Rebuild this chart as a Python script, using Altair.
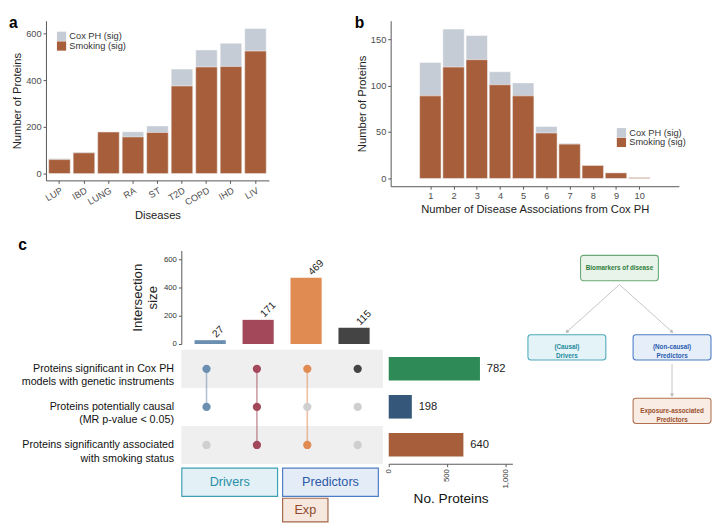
import math
import altair as alt
import pandas as pd

FONT = "Liberation Sans"

# ---------------- data ----------------
# panel a
diseases = ["LUP", "IBD", "LUNG", "RA", "ST", "T2D", "COPD", "IHD", "LIV"]
a_cox = [65, 92, 179, 179, 204, 447, 529, 558, 621]
a_smoking = [60, 89, 178, 157, 176, 375, 456, 458, 524]

# panel b
n_assoc = [1, 2, 3, 4, 5, 6, 7, 8, 9, 10]
b_cox = [125, 161, 154, 115, 103, 56, 38, 14, 6, 1]
b_smoking = [89, 120, 128, 101, 89, 49, 37, 14, 6, 1]

series_names = ["Cox PH (sig)", "Smoking (sig)"]

# panel c (upset)
set_names = [
    "Proteins significant in Cox PH\nmodels with genetic instruments",
    "Proteins potentially causal\n(MR p-value < 0.05)",
    "Proteins significantly associated\nwith smoking status",
]
set_sizes = [782, 198, 640]
intersections = ["Cox+MR", "Cox+MR+Smoking", "Cox+Smoking", "Cox only"]
intersection_sizes = [27, 171, 469, 115]
membership = [[1, 1, 0], [1, 1, 1], [1, 0, 1], [1, 0, 0]]

groups = ["Drivers", "Predictors", "Exp"]
group_first = [0, 2, 2]
group_last = [1, 3, 2]
group_tier = [0, 0, 1]

# diagram
nodes = ["Biomarkers of disease", "(Causal)\nDrivers", "(Non-causal)\nPredictors",
         "Exposure-associated\nPredictors"]
node_col = [0, -1, 1, 1]
node_level = [0, 1, 1, 2]
edges = [(0, 1), (0, 2), (2, 3)]

# ---------------- styles ----------------
COX_GREY = "#c5ccd5"
SMOKE_BROWN = "#a65e3b"
AXIS_GREY = "#555555"
LABEL_GREY = "#4d4d4d"
INTER_COLORS = ["#6b8fb1", "#a3475b", "#e08b52", "#444444"]
INACTIVE = "#cfcfcf"
BAND = "#efefef"
SET_COLORS = ["#2e8b57", "#34577a", "#a65e3b"]
GROUP_STYLE = {
    "Drivers": ("#e3f1f7", "#3d9fb2", "#2a8ea6"),
    "Predictors": ("#e4ecf8", "#4d7dc2", "#2b5aa6"),
    "Exp": ("#f6e7df", "#a5664a", "#8e4a2c"),
}
NODE_STYLE = [
    ("#e8f3e9", "#6aa977", "#2f7d3b"),
    ("#e4f3f8", "#4ea9ba", "#1d8a9c"),
    ("#e6eefa", "#4d7dc4", "#2a5cae"),
    ("#f8ece4", "#b27252", "#9a4f2b"),
]

series_scale = alt.Scale(domain=series_names, range=[COX_GREY, SMOKE_BROWN])


def legend_at(x, y):
    return alt.Legend(title=None, orient="none", legendX=x, legendY=y, symbolType="square",
                      symbolSize=90, labelFontSize=9.5, labelColor="#333", rowPadding=0,
                      labelOffset=3, symbolStrokeWidth=0, padding=0)


def panel_title(t, dx, offset):
    return alt.TitleParams(t, anchor="start", frame="bounds", dx=dx, offset=offset, fontSize=16,
                           fontWeight="bold", color="black")


def phantom():
    # empty anchor view so that each row starts at its own left bound
    return alt.Chart(pd.DataFrame({"v": [0]})).mark_text(text="").encode(
        x=alt.value(0), y=alt.value(0)).properties(width=1, height=1)


# ---------------- panel a ----------------
a_df = pd.DataFrame({
    "disease": diseases * 2,
    "series": [series_names[0]] * len(diseases) + [series_names[1]] * len(diseases),
    "value": a_cox + a_smoking,
    "ord": [0] * len(diseases) + [1] * len(diseases),
})
panel_a = alt.Chart(a_df, title=panel_title("a", -3, -10)).mark_bar(stroke="white", strokeWidth=0.5).encode(
    x=alt.X("disease:N", sort=diseases, scale=alt.Scale(paddingInner=0.12, paddingOuter=0.11),
            axis=alt.Axis(title="Diseases", labelAngle=330, labelAlign="right", labelBaseline="top",
                          titlePadding=3)),
    y=alt.Y("value:Q", stack=None, scale=alt.Scale(domain=[-29, 654], nice=False, zero=False),
            axis=alt.Axis(title="Number of Proteins", values=[0, 200, 400, 600])),
    color=alt.Color("series:N", scale=series_scale, legend=legend_at(11, 11)),
    order=alt.Order("ord:Q"),
).properties(width=229, height=164)

# ---------------- panel b ----------------
b_df = pd.DataFrame({
    "n": n_assoc * 2,
    "series": [series_names[0]] * len(n_assoc) + [series_names[1]] * len(n_assoc),
    "value": b_cox + b_smoking,
    "ord": [0] * len(n_assoc) + [1] * len(n_assoc),
})
panel_b = alt.Chart(b_df, title=panel_title("b", -2, -10)).mark_bar(size=22, stroke="white", strokeWidth=0.5).encode(
    x=alt.X("n:Q", scale=alt.Scale(domain=[-0.5, 11.5], nice=False, zero=False),
            axis=alt.Axis(values=n_assoc, format="d", title="Number of Disease Associations from Cox PH")),
    y=alt.Y("value:Q", stack=None, scale=alt.Scale(domain=[-8.4, 170], nice=False, zero=False),
            axis=alt.Axis(title="Number of Proteins", values=[0, 50, 100, 150])),
    color=alt.Color("series:N", scale=series_scale, legend=legend_at(232, 110)),
    order=alt.Order("ord:Q"),
).properties(width=296, height=170)

top_inner = alt.hconcat(panel_a, panel_b, spacing=88).resolve_scale(color="independent")
top_row = alt.hconcat(phantom(), top_inner, spacing=0).resolve_scale(color="independent")

# ---------------- panel c: upset ----------------
NCOL = len(intersections)
key_scale = alt.Scale(domain=intersections + ["none"], range=INTER_COLORS + [INACTIVE])
col_scale = alt.Scale(domain=[-0.5, NCOL - 0.5], nice=False, zero=False)
row_scale = alt.Scale(domain=[-0.5, 4.08], reverse=True, nice=False, zero=False)


def js_str(s):
    return "'" + s.replace("\\", "\\\\").replace("'", "\\'") + "'"


parts = []
for j, nm in enumerate(set_names):
    parts.append("datum.value == %d ? [%s]" % (j, ", ".join(js_str(l) for l in nm.split("\n"))))
row_label_expr = " : ".join(parts) + " : ''"
row_axis = alt.Axis(values=list(range(len(set_names))), labelExpr=row_label_expr, title=None,
                    domain=False, ticks=False, labelPadding=8, labelFontSize=11, labelColor="#111",
                    labelLineHeight=13.5, labelBaseline="middle")

inter_df = pd.DataFrame({"col": list(range(NCOL)), "key": intersections, "size": intersection_sizes})
ix = alt.X("col:Q", scale=col_scale, axis=None)
inter_axis = alt.Axis(values=[0, 200, 400, 600], title=["Intersection", "size"], labelFontSize=8,
                      titleFontSize=13.5, titlePadding=4, labelColor="#333", labelOverlap=False)
inter_y = alt.Y("size:Q", scale=alt.Scale(domain=[0, 662], nice=False), axis=inter_axis)
inter_bars = alt.Chart(inter_df).mark_bar(size=32).encode(
    x=ix, y=inter_y, color=alt.Color("key:N", scale=key_scale, legend=None))
inter_labels = alt.Chart(inter_df).mark_text(angle=315, align="left", baseline="middle", dx=6,
                                             fontSize=10.5, color="#222").encode(
    x=ix, y=inter_y, text="size:Q")
intersect = alt.layer(inter_bars, inter_labels).properties(width=207, height=96)

# matrix
mat_rows = []
for i, inter in enumerate(intersections):
    for j in range(len(set_names)):
        act = membership[i][j]
        mat_rows.append({"col": i, "row": j, "active": act, "key": inter if act else "none"})
mat_df = pd.DataFrame(mat_rows)

band_df = pd.DataFrame({"row": [j for j in range(len(set_names)) if j % 2 == 0]})
band_df["y0"] = band_df["row"] - 0.5
band_df["y1"] = band_df["row"] + 0.5
band_df["x0"] = -0.5
band_df["x1"] = NCOL - 0.5

bands = alt.Chart(band_df).mark_rect(color=BAND).encode(
    x=alt.X("x0:Q", scale=col_scale, axis=None), x2="x1:Q",
    y=alt.Y("y0:Q", scale=row_scale, axis=row_axis), y2="y1:Q")
lines = alt.Chart(mat_df).transform_filter("datum.active == 1").transform_aggregate(
    rmin="min(row)", rmax="max(row)", groupby=["col", "key"]).mark_rule(strokeWidth=1.6, opacity=0.55).encode(
    x=alt.X("col:Q", scale=col_scale, axis=None),
    y=alt.Y("rmin:Q", scale=row_scale, axis=row_axis), y2="rmax:Q",
    color=alt.Color("key:N", scale=key_scale, legend=None))
dots = alt.Chart(mat_df).mark_circle(size=72, opacity=1).encode(
    x=alt.X("col:Q", scale=col_scale, axis=None),
    y=alt.Y("row:Q", scale=row_scale, axis=row_axis),
    color=alt.Color("key:N", scale=key_scale, legend=None))

TIER_CENTER = [2.98, 3.71]
TIER_HALF = [0.37, 0.31]
mat_layers = [bands, lines, dots]
for g, f, l, t in zip(groups, group_first, group_last, group_tier):
    fill, stroke, txt = GROUP_STYLE[g]
    gdf = pd.DataFrame({"name": [g], "x0": [f - 0.49], "x1": [l + 0.41],
                        "y0": [TIER_CENTER[t] - TIER_HALF[t]], "y1": [TIER_CENTER[t] + TIER_HALF[t]]})
    gdf["cx"] = (gdf["x0"] + gdf["x1"]) / 2
    gdf["cy"] = TIER_CENTER[t]
    mat_layers.append(alt.Chart(gdf).mark_rect(fill=fill, stroke=stroke, strokeWidth=1.2).encode(
        x=alt.X("x0:Q", scale=col_scale, axis=None), x2="x1:Q",
        y=alt.Y("y0:Q", scale=row_scale, axis=row_axis), y2="y1:Q"))
    mat_layers.append(alt.Chart(gdf).mark_text(color=txt, fontSize=13).encode(
        x=alt.X("cx:Q", scale=col_scale, axis=None),
        y=alt.Y("cy:Q", scale=row_scale, axis=row_axis), text="name:N"))
matrix = alt.layer(*mat_layers).properties(width=207, height=179)

# set sizes
set_df = pd.DataFrame({"set": set_names, "row": list(range(len(set_names))), "size": set_sizes})
sy = alt.Y("row:O", scale=alt.Scale(paddingInner=0.38, paddingOuter=0.19), axis=None)
sx = alt.X("size:Q", scale=alt.Scale(domain=[0, 1060], nice=False, zero=False),
           axis=alt.Axis(values=[0, 500, 1000], labelAngle=270, labelAlign="right", labelBaseline="middle",
                         title="No. Proteins", titleFontSize=14, titleColor="#111", labelFontSize=8,
                         labelColor="#333", titlePadding=4, labelOverlap=False))
set_bars = alt.Chart(set_df).mark_bar().encode(
    x=sx, y=sy, color=alt.Color("set:N", scale=alt.Scale(domain=set_names, range=SET_COLORS), legend=None))
set_text = alt.Chart(set_df).mark_text(align="left", dx=7, fontSize=11.5, color="#222").encode(
    x=sx, y=sy, text="size:Q")
setbars = alt.layer(set_bars, set_text).properties(width=127, height=117)

mid = alt.hconcat(matrix, setbars, spacing=2).resolve_scale(color="independent")
c_group = alt.vconcat(intersect, mid, spacing=2, title=panel_title("c", -3, -2)).resolve_scale(color="independent")

# ---------------- diagram ----------------
DXD = [-1.87, 1.76]
DYD = [-0.221, 2.074]
DW, DH = 196, 187
kx = DW / (DXD[1] - DXD[0])
ky = DH / (DYD[1] - DYD[0])
LEVEL_POS = {0: 0.0, 1: 1.0, 2: 1.8}
HALF_W = 40 / kx
HALF_H = 13 / ky
dxs = alt.Scale(domain=DXD, nice=False, zero=False)
dys = alt.Scale(domain=DYD, reverse=True, nice=False, zero=False)

diag_layers = []
for k, nm in enumerate(nodes):
    fill, stroke, txt = NODE_STYLE[k]
    cx, cy = node_col[k], LEVEL_POS[node_level[k]]
    ndf = pd.DataFrame({"name": [nm], "cx": [cx], "cy": [cy], "x0": [cx - HALF_W], "x1": [cx + HALF_W],
                        "y0": [cy - HALF_H], "y1": [cy + HALF_H]})
    diag_layers.append(alt.Chart(ndf).mark_rect(fill=fill, stroke=stroke, strokeWidth=1.1, cornerRadius=3).encode(
        x=alt.X("x0:Q", scale=dxs, axis=None), x2="x1:Q",
        y=alt.Y("y0:Q", scale=dys, axis=None), y2="y1:Q"))
    diag_layers.append(alt.Chart(ndf).mark_text(color=txt, fontSize=6.5, fontWeight="bold", lineBreak="\n",
                                                lineHeight=9).encode(
        x=alt.X("cx:Q", scale=dxs, axis=None), y=alt.Y("cy:Q", scale=dys, axis=None), text="name:N"))

erows = []
for p, c in edges:
    x1, y1 = node_col[p], LEVEL_POS[node_level[p]] + HALF_H + 4 / ky
    x2, y2 = node_col[c], LEVEL_POS[node_level[c]] - HALF_H - 3 / ky
    ang = math.degrees(math.atan2((x2 - x1) * kx, -((y2 - y1) * ky))) % 360
    erows.append({"x": x1, "y": y1, "x2": x2, "y2": y2, "angle": ang})
edf = pd.DataFrame(erows)
diag_layers.append(alt.Chart(edf).mark_rule(color="#c4c4c4", strokeWidth=1).encode(
    x=alt.X("x:Q", scale=dxs, axis=None), y=alt.Y("y:Q", scale=dys, axis=None), x2="x2:Q", y2="y2:Q"))
diag_layers.append(alt.Chart(edf).mark_point(shape="triangle-up", filled=True, size=16, color="#b5b5b5",
                                             opacity=1).encode(
    x=alt.X("x2:Q", scale=dxs, axis=None), y=alt.Y("y2:Q", scale=dys, axis=None),
    angle=alt.Angle("angle:Q", scale=None)))
diagram = alt.layer(*diag_layers).properties(width=DW, height=DH)

bottom_row = alt.hconcat(phantom(), c_group, diagram, spacing=9).resolve_scale(color="independent")

chart = alt.vconcat(top_row, bottom_row, spacing=16).resolve_scale(color="independent").properties(
    padding=0
).configure(font=FONT).configure_view(stroke=None).configure_axis(
    grid=False, domainColor=AXIS_GREY, tickColor=AXIS_GREY, labelColor=LABEL_GREY, titleColor="#222",
    titleFontWeight="normal", labelFontSize=9.5, titleFontSize=11.5, tickSize=3, labelPadding=2,
    titlePadding=3, labelFont=FONT, titleFont=FONT
).configure_legend(labelFont=FONT).configure_text(font=FONT)

chart.save("out.html", embed_options={"renderer": "svg", "actions": False})
